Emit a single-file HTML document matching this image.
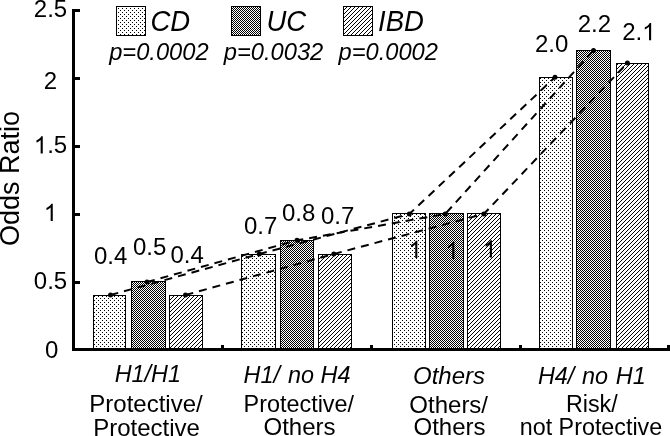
<!DOCTYPE html>
<html>
<head>
<meta charset="utf-8">
<title>Odds Ratio chart</title>
<style>
  html, body { margin: 0; padding: 0; background: #ffffff; }
  body { width: 670px; height: 436px; overflow: hidden; }
  svg { display: block; will-change: transform; }
  text { font-family: "Liberation Sans", sans-serif; fill: #000; }
  .it { font-style: italic; }
</style>
</head>
<body>
<svg width="670" height="436" viewBox="0 0 670 436">
  <defs>
    <!-- CD: sparse staggered dots, 4px period -->
    <pattern id="pCD" patternUnits="userSpaceOnUse" x="0" y="0" width="4" height="4" shape-rendering="crispEdges">
      <rect width="4" height="4" fill="#fff"/>
      <rect x="2" y="0" width="1" height="1" fill="#000"/>
      <rect x="0" y="2" width="1" height="1" fill="#000"/>
    </pattern>
    <!-- UC: 1px checkerboard -->
    <pattern id="pUC" patternUnits="userSpaceOnUse" x="0" y="0" width="2" height="2" shape-rendering="crispEdges">
      <rect width="2" height="2" fill="#fff"/>
      <rect x="0" y="0" width="1" height="1" fill="#000"/>
      <rect x="1" y="1" width="1" height="1" fill="#000"/>
    </pattern>
    <!-- IBD: diagonal 1px stair lines, 4px period -->
    <pattern id="pIBD" patternUnits="userSpaceOnUse" x="0" y="0" width="4" height="4" shape-rendering="crispEdges">
      <rect width="4" height="4" fill="#fff"/>
      <rect x="1" y="0" width="1" height="1" fill="#000"/>
      <rect x="0" y="1" width="1" height="1" fill="#000"/>
      <rect x="3" y="2" width="1" height="1" fill="#000"/>
      <rect x="2" y="3" width="1" height="1" fill="#000"/>
    </pattern>
    <!-- sans-serif digit one without foot serif, 2048 units/em, y up -->
    <path id="one" d="M763 0H583V1147Q518 1085 412.5 1023T223 930V1104Q370 1173 480 1271T636 1466H763Z"/>
  </defs>

  <rect width="670" height="436" fill="#fff"/>

  <!-- bars -->
  <g stroke="#000" stroke-width="1" shape-rendering="crispEdges">
    <!-- group 1 -->
    <rect x="93.5" y="295.5" width="32" height="54" fill="url(#pCD)"/>
    <rect x="131.5" y="281.5" width="34" height="68" fill="url(#pUC)"/>
    <rect x="169.5" y="295.5" width="33" height="54" fill="url(#pIBD)"/>
    <!-- group 2 -->
    <rect x="241.5" y="254.5" width="34" height="95" fill="url(#pCD)"/>
    <rect x="280.5" y="240.5" width="33" height="109" fill="url(#pUC)"/>
    <rect x="318.5" y="254.5" width="33" height="95" fill="url(#pIBD)"/>
    <!-- group 3 -->
    <rect x="392.5" y="213.5" width="33" height="136" fill="url(#pCD)"/>
    <rect x="429.5" y="213.5" width="34" height="136" fill="url(#pUC)"/>
    <rect x="467.5" y="213.5" width="33" height="136" fill="url(#pIBD)"/>
    <!-- group 4 -->
    <rect x="539.5" y="77.5" width="33" height="272" fill="url(#pCD)"/>
    <rect x="576.5" y="50.5" width="34" height="299" fill="url(#pUC)"/>
    <rect x="616.5" y="63.5" width="32" height="286" fill="url(#pIBD)"/>
  </g>

  <!-- axes -->
  <g fill="#000" shape-rendering="crispEdges">
    <rect x="72" y="9" width="3" height="342"/>
    <rect x="72" y="348" width="598" height="3"/>
    <!-- y ticks -->
    <rect x="72" y="9" width="8" height="3"/>
    <rect x="72" y="77" width="8" height="3"/>
    <rect x="72" y="145" width="8" height="3"/>
    <rect x="72" y="213" width="8" height="3"/>
    <rect x="72" y="281" width="8" height="3"/>
    <!-- x ticks -->
    <rect x="221" y="345" width="3" height="4"/>
    <rect x="370" y="345" width="3" height="4"/>
    <rect x="519" y="345" width="3" height="4"/>
    <rect x="667" y="345" width="3" height="4"/>
  </g>

  <!-- dashed series lines -->
  <g fill="none" stroke="#000" stroke-width="2" stroke-dasharray="8 6">
    <polyline points="110.5,295 259.3,254 409.3,214 555,77.3"/>
    <polyline points="147,282 297,240.3 445.2,214 593.5,50.4"/>
    <polyline points="185.5,295 333.8,254 483.8,214 627.4,63"/>
  </g>
  <!-- markers -->
  <g fill="#000">
    <circle cx="110.5" cy="295" r="2.5"/><circle cx="259.3" cy="254" r="2.5"/><circle cx="409.3" cy="214" r="2.5"/><circle cx="555" cy="77.3" r="2.5"/>
    <circle cx="147" cy="282" r="2.5"/><circle cx="297" cy="240.3" r="2.5"/><circle cx="445.2" cy="214" r="2.5"/><circle cx="593.5" cy="50.4" r="2.5"/>
    <circle cx="185.5" cy="295" r="2.5"/><circle cx="333.8" cy="254" r="2.5"/><circle cx="483.8" cy="214" r="2.5"/><circle cx="627.4" cy="63" r="2.5"/>
  </g>

  <!-- legend -->
  <g stroke="#000" stroke-width="1" shape-rendering="crispEdges">
    <rect x="116.5" y="6.5" width="29" height="29" fill="url(#pCD)"/>
    <rect x="231.5" y="6.5" width="29" height="29" fill="url(#pUC)"/>
    <rect x="343.5" y="6.5" width="29" height="29" fill="url(#pIBD)"/>
  </g>
  <g class="it" font-size="27.5" transform="translate(0,31) scale(1,1.05) translate(0,-30.6)">
    <text x="150.5" y="30.5">CD</text>
    <text x="266.5" y="30.5">UC</text>
    <text x="378" y="30.5">IBD</text>
  </g>
  <g class="it" font-size="23.7">
    <text x="109.2" y="60.2">p=0.0002</text>
    <text x="223.8" y="60.2">p=0.0032</text>
    <text x="338.5" y="60.2">p=0.0002</text>
  </g>

  <!-- y tick labels -->
  <g font-size="24" text-anchor="middle">
    <text x="50.5" y="17">2.5</text>
    <text x="50.5" y="88.6">2</text>
    <use href="#one" transform="translate(33.82,153.4) scale(0.01171875,-0.01171875)"/><text x="47.16" y="153.4" text-anchor="start">.5</text>
    <use href="#one" transform="translate(43.83,220.9) scale(0.01171875,-0.01171875)"/>
    <text x="50.5" y="288.6">0.5</text>
    <text x="51.7" y="358">0</text>
  </g>

  <!-- y axis title -->
  <text font-size="27" transform="translate(19.3,246) rotate(-90)">Odds Ratio</text>

  <!-- value labels -->
  <g font-size="24">
    <text x="94" y="263.5">0.4</text>
    <text x="133" y="255">0.5</text>
    <text x="170.5" y="263">0.4</text>
    <text x="244" y="234.2">0.7</text>
    <text x="282" y="220.9">0.8</text>
    <text x="321" y="223.5">0.7</text>
    <use href="#one" transform="translate(408.4,258) scale(0.01171875,-0.01171875)"/>
    <use href="#one" transform="translate(445.4,259) scale(0.01171875,-0.01171875)"/>
    <use href="#one" transform="translate(483,257.4) scale(0.01171875,-0.01171875)"/>
    <text x="535" y="51.5">2.0</text>
    <text x="577.7" y="31.8">2.2</text>
    <text x="622.2" y="40.3">2.</text><use href="#one" transform="translate(642.2,40.3) scale(0.01171875,-0.01171875)"/>
  </g>

  <!-- x category labels -->
  <g class="it" font-size="23.4" text-anchor="middle">
    <text x="147.8" y="382.2">H1/H1</text>
    <text x="243.5" y="383" text-anchor="start">H1/</text>
    <text x="350.5" y="383" text-anchor="end">no H4</text>
    <text x="449" y="383.8" font-size="24">Others</text>
    <text x="591.8" y="383.8" word-spacing="1.2">H4/ no H1</text>
  </g>
  <g font-size="24" text-anchor="middle">
    <text x="146" y="412">Protective/</text>
    <text x="146.5" y="435.5">Protective</text>
    <text x="298.8" y="412" font-size="23.4">Protective/</text>
    <text x="299.5" y="435.3">Others</text>
    <text x="448.7" y="412.7">Others/</text>
    <text x="449.5" y="435.3">Others</text>
    <text x="591.8" y="412.2" font-size="23.3">Risk/</text>
    <text x="591" y="434.8" font-size="23.3">not Protective</text>
  </g>
</svg>
</body>
</html>
